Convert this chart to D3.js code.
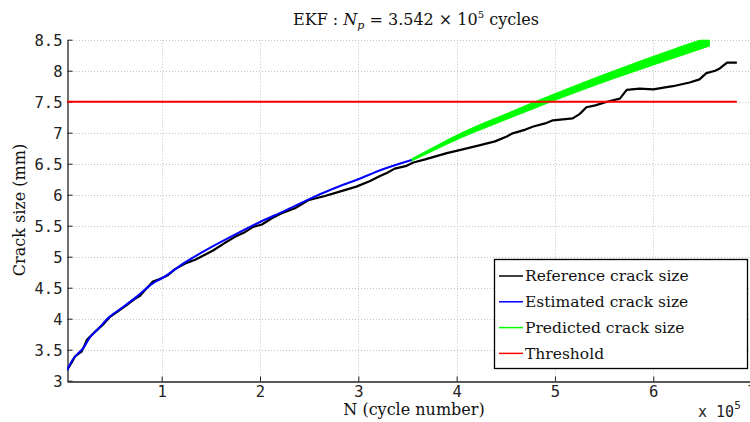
<!DOCTYPE html>
<html><head><meta charset="utf-8">
<script src="https://cdn.jsdelivr.net/npm/d3@7"></script>
<style>
body{margin:0;background:#fff;}
svg{display:block;}
</style></head>
<body>
<svg id="chart" width="750" height="422"></svg>
<script>
// ---- data (N in units of 1e5 cycles, crack size in mm) ----
const refN = [0.037,0.087,0.118,0.149,0.186,0.21,0.24,0.27,0.33,0.40,0.474,0.555,0.644,0.728,0.78,0.84,0.911,0.98,1.064,1.135,1.254,1.34,1.39,1.522,1.64,1.745,1.85,1.93,2.02,2.12,2.22,2.355,2.49,2.66,2.81,2.98,3.12,3.22,3.29,3.37,3.48,3.56,3.68,3.90,4.03,4.24,4.39,4.51,4.57,4.70,4.78,4.90,4.98,5.18,5.25,5.32,5.41,5.53,5.66,5.73,5.86,6.00,6.12,6.20,6.37,6.47,6.54,6.63,6.68,6.75,6.85];
const refA = [3.17,3.30,3.39,3.43,3.47,3.55,3.66,3.71,3.80,3.90,4.03,4.12,4.22,4.32,4.37,4.48,4.60,4.64,4.70,4.80,4.90,4.95,4.99,5.10,5.22,5.32,5.40,5.48,5.52,5.62,5.70,5.78,5.91,5.98,6.05,6.13,6.22,6.30,6.35,6.42,6.46,6.52,6.57,6.67,6.72,6.80,6.86,6.94,6.99,7.05,7.10,7.15,7.20,7.23,7.30,7.41,7.44,7.50,7.55,7.69,7.71,7.70,7.73,7.75,7.81,7.86,7.96,8.00,8.04,8.13,8.13];
const estN = [0.037,0.10,0.15,0.20,0.27,0.35,0.47,0.60,0.75,0.91,1.0,1.25,1.5,1.75,2.0,2.25,2.5,2.75,3.0,3.25,3.542];
const estA = [3.17,3.35,3.44,3.52,3.70,3.83,4.03,4.18,4.36,4.57,4.65,4.92,5.15,5.36,5.56,5.74,5.93,6.10,6.25,6.41,6.56];
const predN = [3.542,3.93,4.24,4.88,5.59,6.27,6.57];
const predLow = [6.545,6.84,7.05,7.45,7.87,8.24,8.40];
const predHigh = [6.575,6.90,7.13,7.55,7.99,8.38,8.54];
const threshold = 7.5;
const xTicks = [1,2,3,4,5,6,7];
const yTicks = [3,3.5,4,4.5,5,5.5,6,6.5,7,7.5,8,8.5];
const legendLabels = ["Reference crack size","Estimated crack size","Predicted crack size","Threshold"];
const legendColors = ["#000000","#0000ff","#00ff00","#ff0000"];

const svg = d3.select("#chart");
const L = 67, R = 751.6, T = 39.7, B = 380.7;
const x = d3.scaleLinear().domain([0.037, 7]).range([L, R]);
const y = d3.scaleLinear().domain([3, 8.5]).range([B, T]);

svg.append("defs").append("clipPath").attr("id","clip")
  .append("rect").attr("x",L).attr("y",T).attr("width",R-L).attr("height",B-T);

// grid
const grid = svg.append("g").attr("stroke","#c4c4c4").attr("stroke-width",1).attr("stroke-dasharray","1,2");
grid.selectAll(".gx").data(xTicks).join("line")
  .attr("x1",d=>Math.round(x(d))+0.5).attr("x2",d=>Math.round(x(d))+0.5).attr("y1",T).attr("y2",B);
grid.selectAll(".gy").data(yTicks.filter(d=>d>3)).join("line")
  .attr("x1",L).attr("x2",R).attr("y1",d=>Math.round(y(d))+0.5).attr("y2",d=>Math.round(y(d))+0.5);

// axes
const xAxis = d3.axisBottom(x).tickValues(xTicks).tickSizeInner(-5).tickSizeOuter(0).tickPadding(4).tickFormat(d3.format("d"));
const yAxis = d3.axisLeft(y).tickValues(yTicks).tickSizeInner(-5).tickSizeOuter(0).tickPadding(5).tickFormat(d=>String(d));
const gx = svg.append("g").attr("transform",`translate(0,${Math.round(B)+0.5})`).call(xAxis);
const gy = svg.append("g").attr("transform",`translate(${L+0.5},0)`).call(yAxis);
[gx,gy].forEach(g=>{
  g.select(".domain").attr("stroke","#222").attr("stroke-width",1.3);
  g.selectAll(".tick line").attr("stroke","#222");
  g.selectAll(".tick text").attr("font-family","DejaVu Sans Mono").attr("font-size",15.5).attr("fill","#222");
});
gy.selectAll(".tick text").attr("dy","0.35em");

const plot = svg.append("g").attr("clip-path","url(#clip)");

// predicted band
const predData = predN.map((n,i)=>({n, lo:predLow[i], hi:predHigh[i]}));
plot.append("path").datum(predData)
  .attr("fill","#00ff00").attr("stroke","#00ff00").attr("stroke-width",1.2)
  .attr("d", d3.area().x(d=>x(d.n)).y0(d=>y(d.lo)).y1(d=>y(d.hi)).curve(d3.curveNatural));

// reference
const refData = refN.map((n,i)=>({n,a:refA[i]}));
plot.append("path").datum(refData)
  .attr("fill","none").attr("stroke","#000").attr("stroke-width",2.2).attr("stroke-linejoin","round")
  .attr("d", d3.line().x(d=>x(d.n)).y(d=>y(d.a)));

// estimated
const estData = estN.map((n,i)=>({n,a:estA[i]}));
plot.append("path").datum(estData)
  .attr("fill","none").attr("stroke","#0000ff").attr("stroke-width",2)
  .attr("d", d3.line().x(d=>x(d.n)).y(d=>y(d.a)).curve(d3.curveMonotoneX));

// threshold
plot.append("line").attr("x1",x(refN[0])).attr("x2",x(refN[refN.length-1]))
  .attr("y1",y(threshold)).attr("y2",y(threshold))
  .attr("stroke","#ff0000").attr("stroke-width",2);

// title
const title = svg.append("text").attr("x",416).attr("y",25).attr("text-anchor","middle")
  .attr("font-family","DejaVu Serif").attr("font-size",16).attr("fill","#111");
title.append("tspan").text("EKF : ");
title.append("tspan").attr("font-style","italic").text("N");
title.append("tspan").attr("font-style","italic").attr("font-size",11).attr("dy",4).text("p");
title.append("tspan").attr("dy",-4).text(" = 3.542 × 10");
title.append("tspan").attr("font-size",10).attr("dy",-7).text("5");
title.append("tspan").attr("dy",7).text(" cycles");

// axis labels
svg.append("text").attr("x",414).attr("y",415).attr("text-anchor","middle")
  .attr("font-family","DejaVu Serif").attr("font-size",16).attr("fill","#111").text("N (cycle number)");
svg.append("text").attr("transform","translate(25,210) rotate(-90)").attr("text-anchor","middle")
  .attr("font-family","DejaVu Serif").attr("font-size",16).attr("fill","#111").text("Crack size (mm)");

// x 10^5
const mult = svg.append("text").attr("x",698).attr("y",417)
  .attr("font-family","DejaVu Sans Mono").attr("font-size",15).attr("fill","#222");
mult.append("tspan").text("x 10");
mult.append("tspan").attr("font-size",11).attr("dy",-8).text("5");

// legend
const lg = svg.append("g");
lg.append("rect").attr("x",494.5).attr("y",259.5).attr("width",253).attr("height",109)
  .attr("fill","#fff").attr("stroke","#000").attr("stroke-width",1.3);
const rows = lg.selectAll(".row").data(legendLabels).join("g")
  .attr("transform",(d,i)=>`translate(0,${276+i*25.8})`);
rows.append("line").attr("x1",499).attr("x2",523).attr("y1",0).attr("y2",0)
  .attr("stroke",(d,i)=>legendColors[i]).attr("stroke-width",1.5);
rows.append("text").attr("x",525).attr("y",0).attr("dy","0.35em")
  .attr("font-family","DejaVu Serif").attr("font-size",15.5).attr("fill","#111").text(d=>d);
</script>
</body></html>
